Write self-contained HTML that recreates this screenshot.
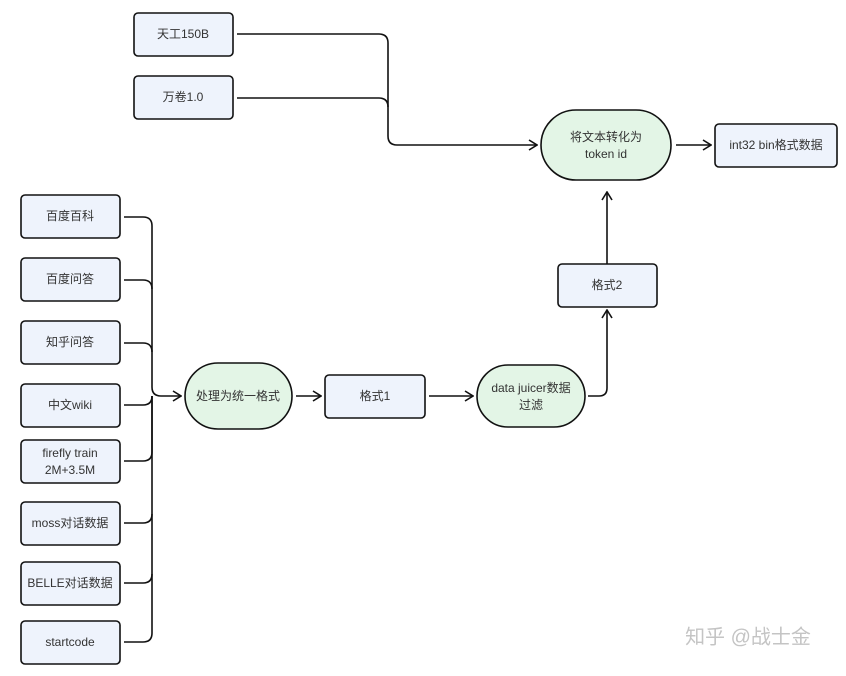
<!DOCTYPE html>
<html><head><meta charset="utf-8"><style>
html,body{margin:0;padding:0;background:#fff;}
svg text{font-family:"Liberation Sans","Noto Sans CJK SC",sans-serif;font-size:12px;fill:#333;text-anchor:middle;dominant-baseline:middle;}
</style></head><body>
<svg width="846" height="671" viewBox="0 0 846 671" xmlns="http://www.w3.org/2000/svg">
<defs><marker id="a" markerWidth="10" markerHeight="12" refX="9" refY="6" orient="auto" markerUnits="userSpaceOnUse"><path d="M1,1 L9,6 L1,11" fill="none" stroke="#111" stroke-width="1.6"/></marker></defs>
<g fill="#eef3fc" stroke="#111" stroke-width="1.6">
<rect x="134" y="13" width="99" height="43" rx="4"/>
<rect x="134" y="76" width="99" height="43" rx="4"/>
<rect x="21" y="195" width="99" height="43" rx="4"/>
<rect x="21" y="258" width="99" height="43" rx="4"/>
<rect x="21" y="321" width="99" height="43" rx="4"/>
<rect x="21" y="384" width="99" height="43" rx="4"/>
<rect x="21" y="440" width="99" height="43" rx="4"/>
<rect x="21" y="502" width="99" height="43" rx="4"/>
<rect x="21" y="562" width="99" height="43" rx="4"/>
<rect x="21" y="621" width="99" height="43" rx="4"/>
<rect x="325" y="375" width="100" height="43" rx="4"/>
<rect x="558" y="264" width="99" height="43" rx="4"/>
<rect x="715" y="124" width="122" height="43" rx="4"/>
</g>
<g fill="#e3f5e6" stroke="#111" stroke-width="1.6">
<rect x="185" y="363" width="107" height="66" rx="33"/>
<rect x="477" y="365" width="108" height="62" rx="31"/>
<rect x="541" y="110" width="130" height="70" rx="35"/>
</g>
<g fill="none" stroke="#111" stroke-width="1.6">
<path d="M237,34 H379 Q388,34 388,43 V136 Q388,145 397,145 H537" marker-end="url(#a)"/>
<path d="M237,98 H379 Q388,98 388,107"/>
<path d="M124,217 H143 Q152,217 152,226 V387 Q152,396 161,396 H181" marker-end="url(#a)"/>
<path d="M124,280 H143 Q152,280 152,289"/>
<path d="M124,343 H143 Q152,343 152,352"/>
<path d="M124,405 H143 Q152,405 152,396"/>
<path d="M124,461 H143 Q152,461 152,452 V396"/>
<path d="M124,523 H143 Q152,523 152,514"/>
<path d="M124,583 H143 Q152,583 152,574"/>
<path d="M124,642 H143 Q152,642 152,633 V396"/>
<path d="M296,396 H321" marker-end="url(#a)"/>
<path d="M429,396 H473" marker-end="url(#a)"/>
<path d="M588,396 H599 Q607,396 607,388 V310" marker-end="url(#a)"/>
<path d="M607,264 V192" marker-end="url(#a)"/>
<path d="M676,145 H711" marker-end="url(#a)"/>
</g>
<text x="183" y="35">天工150B</text>
<text x="183" y="98">万卷1.0</text>
<text x="70" y="217">百度百科</text>
<text x="70" y="280">百度问答</text>
<text x="70" y="343">知乎问答</text>
<text x="70" y="406">中文wiki</text>
<text x="70" y="454">firefly train</text>
<text x="70" y="471">2M+3.5M</text>
<text x="70" y="524">moss对话数据</text>
<text x="70" y="584">BELLE对话数据</text>
<text x="70" y="643">startcode</text>
<text x="238" y="397">处理为统一格式</text>
<text x="375" y="397">格式1</text>
<text x="531" y="389">data juicer数据</text>
<text x="531" y="406">过滤</text>
<text x="607" y="286">格式2</text>
<text x="606" y="138">将文本转化为</text>
<text x="606" y="155">token id</text>
<text x="776" y="146">int32 bin格式数据</text>
<text x="748" y="638" style="font-size:20px;fill:#c4c4c4">知乎 @战士金</text>
</svg>
</body></html>
